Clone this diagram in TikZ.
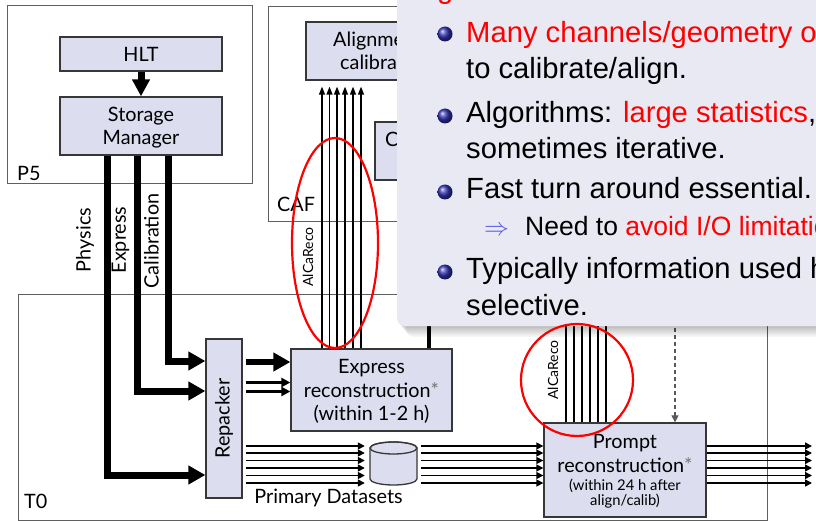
\documentclass[tikz,border=0pt]{standalone}
\usepackage{fontspec}
\setmainfont{Liberation Sans}
\newfontfamily\diagfont{Lato}
\usetikzlibrary{arrows.meta,calc}

\definecolor{boxfill}{RGB}{221,221,240}
\definecolor{boxline}{RGB}{55,55,55}
\definecolor{arealine}{RGB}{95,95,95}
\definecolor{panelbg}{RGB}{233,233,244}
\definecolor{structblue}{RGB}{51,51,179}
\definecolor{impliesblue}{RGB}{85,85,230}
\definecolor{alertred}{RGB}{255,0,0}

\begin{document}
\begin{tikzpicture}[x=1pt, y=-1pt,
  area/.style={draw=arealine, line width=1pt},
  procbox/.style={draw=boxline, fill=boxfill, line width=1.3pt, inner sep=0pt},
  dlabel/.style={font=\diagfont\fontsize{19.8}{23}\selectfont, inner sep=0pt},
  dsmall/.style={font=\diagfont\fontsize{14.8}{16}\selectfont, inner sep=0pt},
  dtiny/.style={font=\diagfont\fontsize{14}{16}\selectfont, inner sep=0pt},
  stream/.style={line width=7pt, -{Triangle[length=17pt,width=18pt]}},
  feed/.style={line width=6pt, -{Triangle[length=17pt,width=18pt]}},
  twin/.style={line width=3pt, -{Triangle[length=9pt,width=9pt]}},
  thinflow/.style={line width=1.5pt, -{Triangle[length=7pt,width=7pt]}},
  alcaflow/.style={line width=1.3pt},
  dashflow/.style={line width=1.2pt, draw=black!65, dash pattern=on 4pt off 3pt, -{Triangle[length=7pt,width=7pt]}},
  highlight/.style={draw=alertred, line width=2.2pt},
  bodytext/.style={font=\fontsize{29.2}{34}\selectfont, inner sep=0pt, anchor=base west},
  subtext/.style={font=\fontsize{26.5}{30}\selectfont, inner sep=0pt, anchor=base west},
]
\fill[white] (0,0) rectangle (816,521);
\useasboundingbox (0,0) rectangle (816,521);

% ---- site areas ----
\draw[area] (7,6) rectangle (252,184);
\draw[area] (268,7) rectangle (800,222);
\draw[area] (18,294) rectangle (767,520);
\node[dlabel, anchor=base west] at (17,181) {P5};
\node[dlabel, anchor=base west] at (277,212) {CAF};
\node[dlabel, anchor=base west] at (24,508) {T0};

% ---- P5 ----
\node[procbox, dlabel, minimum width=162pt, minimum height=34pt] (hlt) at (141,54) {HLT};
\node[procbox, minimum width=162pt, minimum height=58pt] (sm) at (141,126) {};
\node[dlabel, anchor=base] at (141,122) {Storage};
\node[dlabel, anchor=base] at (141,145) {Manager};
\draw[line width=7pt, -{Triangle[length=17pt,width=17pt]}] (hlt) -- (sm);

% ---- CAF ----
\node[procbox, minimum width=164pt, minimum height=58pt] (align) at (388,51) {};
\node[dlabel, anchor=base west] at (333,47) {Alignment};
\node[dlabel, anchor=base west] at (340,70) {calibration};
\node[procbox, minimum width=95pt, minimum height=58pt] (cbox) at (422.5,151) {};
\node[dlabel, anchor=base west] at (385,147) {C};

% ---- T0 ----
\node[procbox, minimum width=36pt, minimum height=159pt] (rep) at (224,418.5) {};
\node[dlabel, rotate=90] at (rep) {Repacker};

\node[procbox, minimum width=161pt, minimum height=82pt] (expr) at (371.5,390) {};
\node[dlabel, anchor=base] at (371.5,373) {Express};
\node[dlabel, anchor=base] at (371.5,397) {reconstruction{\color{black!55}*}};
\node[dlabel, anchor=base] at (371.5,420) {(within 1-2 h)};

\node[procbox, minimum width=162pt, minimum height=94pt] (prompt) at (625,470) {};
\node[dlabel, anchor=base] at (625,448) {Prompt};
\node[dlabel, anchor=base] at (625,472) {reconstruction{\color{black!55}*}};
\node[dsmall, anchor=base] at (625,490) {(within 24 h after};
\node[dsmall, anchor=base] at (625,505) {align/calib)};

% primary dataset store
\node[minimum width=47pt, minimum height=44pt, inner sep=0pt] (db) at (393.5,463.5) {};
\filldraw[draw=boxline, fill=boxfill, line width=1.3pt]
  (370,448) -- (370,479) arc[start angle=180, end angle=360, x radius=23.5pt, y radius=6pt]
  -- (417,448) arc[start angle=0, end angle=180, x radius=23.5pt, y radius=6pt] -- cycle;
\draw[boxline, line width=1.3pt] (393.5,448) ellipse [x radius=23.5pt, y radius=6pt];
\node[dlabel, anchor=base] at (328.5,503) {Primary Datasets};

% ---- streams out of the Storage Manager ----
\coordinate (physbend) at (107,475);
\coordinate (exprbend) at (137,391);
\coordinate (calibbend) at (168,361);
\draw[stream] (sm.south -| physbend) |- (rep.west |- physbend);
\draw[stream] (sm.south -| exprbend) |- (rep.west |- exprbend);
\draw[stream] (sm.south -| calibbend) |- (rep.west |- calibbend);
\node[dlabel, rotate=90] at (85,240) {Physics};
\node[dlabel, rotate=90] at (120.5,240) {Express};
\node[dlabel, rotate=90] at (151.5,241) {Calibration};

% ---- Repacker to Express reconstruction ----
\coordinate (feedA) at (0,362);
\coordinate (feedB) at (0,382.5);
\coordinate (feedC) at (0,391.5);
\draw[feed] ($(rep.east |- feedA)+(3,0)$) -- (expr.west |- feedA);
\draw[twin] ($(rep.east |- feedB)+(3,0)$) -- (expr.west |- feedB);
\draw[twin] ($(rep.east |- feedC)+(3,0)$) -- (expr.west |- feedC);

% ---- primary dataset lanes ----
\coordinate (outend) at (812,0);
\foreach \y in {446,453,460.5,468,475.5,483} {
  \path (0,\y) coordinate (lane);
  \draw[thinflow] ($(rep.east |- lane)+(3,0)$) -- ($(db.west |- lane)+(-5,0)$);
  \draw[thinflow] ($(db.east |- lane)+(4,0)$) -- (prompt.west |- lane);
  \draw[thinflow] (prompt.east |- lane) -- (outend |- lane);
}

% ---- AlCaReco to CAF ----
\foreach \x in {322,329.5,337,345,353,361} {
  \path (\x,0) coordinate (alca);
  \draw[alcaflow, -{Triangle[length=8pt,width=6pt]}] (expr.north -| alca) -- ($(align.south -| alca)+(0,6)$);
}
\node[dtiny, rotate=90] at (308,257) {AlCaReco};

\coordinate (alcatop) at (0,300);
\foreach \x in {566,574,582,590,598,606} {
  \path (\x,0) coordinate (alca);
  \draw[alcaflow] (prompt.north -| alca) -- (alca |- alcatop);
}
\node[dtiny, rotate=90] at (553,370) {AlCaReco};

\coordinate (dashsrc) at (675,300);
\draw[dashflow] (dashsrc) -- (prompt.north -| dashsrc);

\coordinate (xlink) at (429,0);
\draw[line width=4pt] (expr.north -| xlink) -- (cbox.south -| xlink);

% ---- text panel with drop shadow ----
\foreach \i in {1,...,6}
  \fill[black, opacity=0.045, rounded corners=8pt] (397+\i*1.5,-30) rectangle (850,326+\i*1.8);
\fill[panelbg, rounded corners=8pt] (397,-30) rectangle (850,326);

\node[bodytext, text=alertred] at (437,-1) {g};

\foreach \yb in {34,116,192,272}
  \shade[ball color=structblue] (445,\yb) circle [radius=7.5pt];

\node[bodytext] at (466,43) {\textcolor{alertred}{Many channels/geometry of}};
\node[bodytext] at (466,79) {to calibrate/align.};
\node[bodytext] at (466,123) {Algorithms: \textcolor{alertred}{large statistics},};
\node[bodytext] at (466,159) {sometimes iterative.};
\node[bodytext] at (466,199) {Fast turn around essential.};
\node[subtext, text=impliesblue] at (484,236) {$\Rightarrow$};
\node[subtext] at (525,236) {Need to \textcolor{alertred}{avoid I/O limitations}};
\node[bodytext] at (466,278) {Typically information used highly};
\node[bodytext] at (466,315) {selective.};

% ---- highlights ----
\draw[highlight] (335,243) ellipse [x radius=43pt, y radius=105pt];
\draw[highlight] (577,380) circle [radius=56pt];
\end{tikzpicture}
\end{document}
